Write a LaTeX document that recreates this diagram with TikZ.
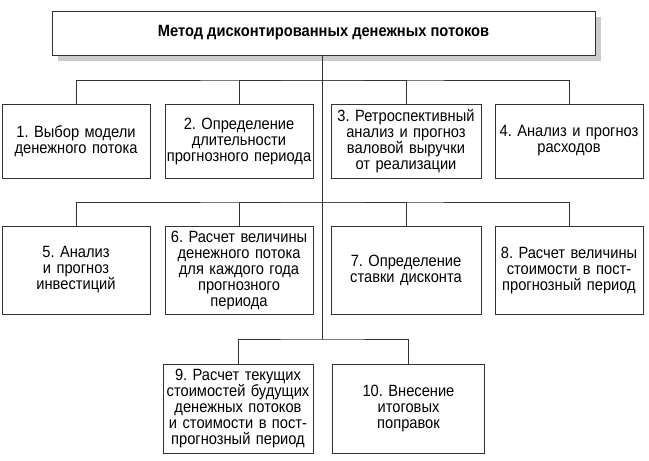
\documentclass[tikz,border=0pt]{standalone}
\usepackage{fontspec}
\setmainfont[FakeStretch=0.9]{Liberation Sans}
\usetikzlibrary{shadows}
\frenchspacing

\tikzset{
  stagebox/.style={draw=black!80, line width=1pt, fill=white, inner sep=0pt,
    minimum width=148pt, text width=146pt, align=center,
    font=\fontsize{16.3}{16}\selectfont},
  link/.style={draw=black!80, line width=1pt}
}

\begin{document}
\begin{tikzpicture}[x=1pt,y=-1pt]
    \useasboundingbox (0,0) rectangle (649,461);

    % Method title
    \node[draw=black!80, line width=1pt, fill=white, minimum width=543pt, minimum height=44pt,
      font=\bfseries\fontsize{16.3}{16}\selectfont,
      drop shadow={shadow xshift=6pt, shadow yshift=-6pt, fill=black!20, opacity=1}]
      (top) at (323.5,33) {Метод дисконтированных денежных потоков};

    % Junctions on the trunk
    \coordinate (j1) at (322,80);
    \coordinate (j2) at (322,202);
    \coordinate (j3) at (322,339);

    % First row
    \node[stagebox, minimum height=74pt] (s1) at (76,141) {1. Выбор модели\\денежного потока};
    \node[stagebox, minimum height=74pt] (s2) at (239,141) {2. Определение\\длительности\\прогнозного периода};
    \node[stagebox, minimum height=74pt, minimum width=150pt] (s3) at (406,141) {3. Ретроспективный\\анализ и прогноз\\валовой выручки\\от реализации};
    \node[stagebox, minimum height=74pt] (s4) at (569,141) {4. Анализ и прогноз\\расходов};

    % Second row
    \node[stagebox, minimum height=88pt] (s5) at (76,270) {5. Анализ\\и прогноз\\инвестиций};
    \node[stagebox, minimum height=88pt] (s6) at (239,270) {6. Расчет величины\\денежного потока\\для каждого года\\прогнозного\\периода};
    \node[stagebox, minimum height=88pt, minimum width=150pt] (s7) at (406,270) {7. Определение\\ставки дисконта};
    \node[stagebox, minimum height=88pt] (s8) at (569,270) {8. Расчет величины\\стоимости в пост-\\прогнозный период};

    % Third row
    \node[stagebox, minimum height=89pt, minimum width=150pt] (s9) at (238,408.5) {9. Расчет текущих\\стоимостей будущих\\денежных потоков\\и стоимости в пост-\\прогнозный период};
    \node[stagebox, minimum height=89pt, minimum width=152pt] (s10) at (408.5,408.5) {10. Внесение\\итоговых\\поправок};

    % Connectors
    \draw[link] (top.south -| j1) -- (j3);
    \draw[link] (s1.north) |- (j1) -| (s4.north);
    \draw[link] (s2.north) |- (j1) -| (s3.north);
    \draw[link] (s5.north) |- (j2) -| (s8.north);
    \draw[link] (s6.north) |- (j2) -| (s7.north);
    \draw[link] (s9.north) |- (j3) -| (s10.north);
\end{tikzpicture}
\end{document}
